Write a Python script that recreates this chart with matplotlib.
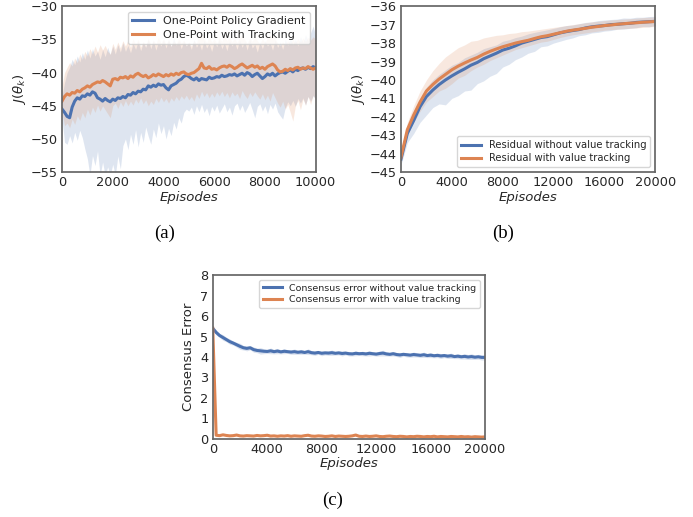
import matplotlib
matplotlib.use("Agg")
import matplotlib.pyplot as plt
import numpy as np

BLUE = "#4c72b0"
ORANGE = "#dd8452"

# ---- panel (a): one-point methods, every 100 episodes ----
ep_a = list(range(0, 10001, 100))
a_pg_mean = [-45.5, -46.0, -46.6, -46.8, -45.2, -44.3, -43.8, -44.0, -43.5, -43.6,
             -43.2, -43.4, -42.9, -43.1, -43.8, -44.0, -44.3, -43.9, -44.2, -44.4,
             -44.0, -44.2, -43.8, -43.9, -43.6, -43.8, -43.3, -43.4, -43.0, -43.2,
             -42.8, -42.9, -42.5, -42.6, -42.0, -42.2, -41.9, -42.1, -41.7, -41.9,
             -41.8, -42.3, -42.6, -42.0, -41.8, -41.6, -41.2, -41.0, -40.6, -40.4,
             -40.6, -40.9, -41.1, -40.8, -41.2, -40.9, -41.0, -41.1, -40.7, -40.9,
             -40.8, -40.6, -40.7, -40.4, -40.6, -40.5, -40.3, -40.4, -40.2, -40.5,
             -40.3, -40.1, -40.4, -40.0, -40.2, -40.6, -40.3, -40.1, -40.5, -40.9,
             -40.6, -40.2, -40.4, -40.1, -40.5, -40.2, -40.0, -39.9, -40.1, -39.8,
             -39.6, -39.9, -39.5, -39.7, -39.4, -39.3, -39.5, -39.2, -39.4, -39.1, -39.3]
a_pg_low = [-47.0, -50.5, -50.8, -49.5, -50.6, -49.0, -50.2, -48.7, -49.8, -51.5,
            -53.0, -55.5, -52.5, -54.0, -51.8, -55.5, -53.5, -55.5, -54.2, -55.5,
            -53.8, -55.5, -52.6, -54.5, -51.0, -50.0, -51.6, -49.3, -50.8, -48.6,
            -51.2, -49.0, -50.5, -48.2, -49.6, -50.8, -48.5, -49.8, -47.6, -49.2,
            -48.0, -50.0, -48.4, -49.5, -47.5, -48.5, -46.8, -47.6, -46.0, -45.5,
            -45.8, -45.2, -46.3, -45.0, -45.9, -44.8, -46.0, -45.3, -46.5, -45.1,
            -45.8, -44.9, -46.1, -45.4, -44.7, -45.9, -45.2, -46.4, -45.0, -44.6,
            -45.7, -44.9, -46.0, -45.3, -44.5, -45.6, -46.8, -45.1, -44.7, -45.8,
            -45.0, -46.2, -44.8, -45.5, -44.6, -45.9, -46.5, -47.0, -45.3, -44.4,
            -45.0, -44.2, -45.1, -43.9, -44.6, -43.8, -44.9, -43.6, -44.3, -43.5, -44.0]
a_pg_high = [-43.5, -41.5, -40.0, -39.2, -38.0, -38.8, -37.5, -38.4, -37.0, -38.0,
             -36.6, -37.8, -36.4, -37.5, -36.8, -38.0, -36.5, -37.6, -36.2, -37.3,
             -36.0, -37.2, -35.8, -36.9, -35.5, -36.8, -35.9, -37.0, -35.6, -36.5,
             -35.3, -36.7, -35.5, -36.2, -35.0, -36.4, -35.2, -36.6, -35.4, -36.0,
             -35.1, -36.3, -35.0, -36.1, -34.8, -35.9, -35.2, -36.4, -35.3, -36.0,
             -35.5, -36.5, -35.0, -36.2, -35.4, -36.6, -35.1, -36.3, -35.6, -36.8,
             -35.3, -36.1, -35.0, -36.4, -35.5, -36.7, -35.2, -36.0, -35.4, -36.5,
             -35.1, -36.2, -35.3, -36.6, -35.0, -36.3, -35.7, -36.9, -35.4, -36.4,
             -35.2, -36.0, -35.5, -36.6, -35.1, -36.2, -35.4, -36.5, -35.0, -35.9,
             -34.8, -35.8, -35.0, -36.0, -34.6, -35.5, -34.3, -35.2, -34.0, -33.0, -34.5]
a_tr_mean = [-44.3, -43.6, -43.2, -43.4, -43.0, -43.1, -42.7, -42.9, -42.5, -42.3,
             -42.0, -42.2, -41.8, -41.6, -41.4, -41.5, -41.2, -41.4, -41.7, -42.0,
             -41.0, -40.9, -41.1, -40.7, -40.8, -40.6, -40.9, -40.5, -40.7, -40.3,
             -40.1, -40.4, -40.6, -40.4, -40.8, -40.6, -40.3, -40.5, -40.2, -40.4,
             -40.6, -40.3, -40.5, -40.2, -40.4, -40.1, -40.3, -40.0, -39.9, -40.2,
             -40.3, -40.1, -40.0, -39.7, -39.4, -38.6, -39.3, -39.4, -39.1, -39.5,
             -39.4, -39.6, -39.3, -39.1, -39.0, -39.2, -38.9, -39.1, -39.4, -39.2,
             -38.9, -38.7, -39.0, -39.3, -39.1, -38.9, -39.2, -39.0, -39.4, -39.2,
             -39.5, -39.1, -38.9, -38.7, -39.0, -39.6, -39.9, -39.8, -39.5, -39.7,
             -39.4, -39.6, -39.3, -39.2, -39.5, -39.3, -39.4, -39.1, -39.3, -39.5, -39.3]
a_tr_low = [-46.0, -48.0, -47.6, -48.3, -47.0, -47.8, -46.5, -47.2, -46.0, -46.8,
            -45.5, -46.4, -45.2, -46.0, -44.9, -45.8, -45.0, -45.6, -46.2, -46.8,
            -45.0, -44.6, -45.4, -44.4, -45.1, -44.2, -45.0, -44.3, -44.9, -44.0,
            -44.6, -43.8, -44.7, -44.1, -45.0, -44.3, -44.8, -43.9, -44.5, -43.7,
            -44.4, -43.9, -44.6, -43.8, -44.3, -43.6, -44.2, -43.5, -44.0, -43.4,
            -44.1, -43.6, -44.3, -43.2, -43.9, -42.8, -43.6, -43.0, -43.8, -43.1,
            -43.7, -42.9, -43.5, -42.8, -43.6, -43.0, -43.8, -42.9, -43.5, -43.1,
            -43.9, -42.7, -43.4, -43.9, -43.0, -43.6, -42.9, -43.5, -44.0, -43.2,
            -44.1, -43.4, -44.3, -43.0, -43.8, -44.6, -45.2, -44.3, -45.5, -44.8,
            -46.0, -47.3, -45.0, -44.2, -45.6, -44.0, -44.9, -43.6, -44.8, -43.4, -44.0]
a_tr_high = [-42.0, -40.0, -39.2, -38.5, -39.0, -37.8, -38.5, -37.2, -38.0, -36.8,
             -37.5, -36.4, -37.2, -36.0, -36.9, -35.8, -36.6, -35.9, -36.8, -37.2,
             -35.6, -36.5, -35.4, -36.3, -35.2, -36.0, -35.1, -36.2, -34.9, -35.8,
             -35.0, -36.1, -35.3, -36.0, -34.8, -35.9, -35.1, -35.7, -34.7, -35.6,
             -34.9, -35.8, -35.0, -36.0, -35.2, -35.7, -34.9, -35.6, -35.1, -35.9,
             -35.4, -36.0, -35.2, -35.6, -34.4, -33.8, -34.8, -35.5, -34.6, -35.4,
             -34.9, -35.6, -34.7, -35.3, -34.5, -35.2, -34.6, -35.4, -34.8, -35.5,
             -34.7, -34.3, -35.0, -35.6, -34.8, -35.3, -34.6, -35.2, -35.7, -34.9,
             -35.5, -34.8, -34.4, -34.2, -34.9, -35.6, -35.9, -35.4, -35.8, -35.2,
             -35.6, -35.0, -35.5, -34.9, -35.4, -34.8, -35.3, -34.7, -35.1, -34.6, -35.0]

# ---- panel (b): residual methods, every 500 episodes ----
ep_b = list(range(0, 20001, 500))
b_no_mean = [-44.3, -42.9, -42.2, -41.45, -40.9, -40.55, -40.25, -40.0, -39.78, -39.58,
             -39.4, -39.2, -39.05, -38.85, -38.7, -38.55, -38.38, -38.28, -38.15, -38.0,
             -37.9, -37.8, -37.7, -37.65, -37.55, -37.45, -37.38, -37.32, -37.27, -37.18,
             -37.12, -37.08, -37.05, -37.0, -36.98, -36.95, -36.93, -36.88, -36.86, -36.84, -36.82]
b_no_low = [-44.6, -43.4, -42.9, -42.3, -41.9, -41.5, -41.3, -41.35, -41.0, -40.85,
            -40.6, -40.55, -40.2, -40.05, -39.8, -39.65, -39.3, -39.15, -38.9, -38.75,
            -38.55, -38.45, -38.2, -38.15, -38.0, -37.9, -37.8, -37.72, -37.6, -37.55,
            -37.45, -37.42, -37.35, -37.32, -37.25, -37.24, -37.2, -37.17, -37.1, -37.12, -37.05]
b_no_high = [-44.0, -42.5, -41.7, -41.0, -40.4, -40.0, -39.7, -39.45, -39.2, -39.05,
             -38.8, -38.65, -38.5, -38.3, -38.2, -38.1, -37.9, -37.82, -37.7, -37.62,
             -37.5, -37.42, -37.35, -37.28, -37.2, -37.12, -37.05, -37.02, -36.95, -36.88,
             -36.85, -36.78, -36.75, -36.72, -36.7, -36.64, -36.65, -36.6, -36.6, -36.56, -36.55]
b_tr_mean = [-44.2, -42.7, -41.9, -41.2, -40.6, -40.25, -39.95, -39.7, -39.45, -39.25,
             -39.08, -38.92, -38.78, -38.6, -38.45, -38.32, -38.2, -38.1, -38.0, -37.92,
             -37.85, -37.75, -37.66, -37.6, -37.52, -37.44, -37.36, -37.3, -37.25, -37.2,
             -37.14, -37.1, -37.05, -37.02, -36.98, -36.95, -36.92, -36.9, -36.87, -36.85, -36.83]
b_tr_low = [-44.4, -43.0, -42.3, -41.7, -41.2, -40.9, -40.6, -40.45, -40.2, -39.9,
            -39.75, -39.5, -39.3, -39.15, -38.95, -38.8, -38.65, -38.5, -38.35, -38.25,
            -38.15, -38.05, -37.95, -37.9, -37.8, -37.7, -37.62, -37.55, -37.5, -37.45,
            -37.4, -37.35, -37.3, -37.27, -37.25, -37.22, -37.2, -37.18, -37.15, -37.12, -37.1]
b_tr_high = [-43.9, -42.3, -41.4, -40.6, -40.0, -39.5, -39.1, -38.75, -38.5, -38.25,
             -38.1, -37.9, -37.85, -37.72, -37.65, -37.58, -37.55, -37.48, -37.45, -37.38,
             -37.35, -37.3, -37.25, -37.2, -37.15, -37.1, -37.05, -37.0, -36.95, -36.9,
             -36.85, -36.82, -36.78, -36.75, -36.72, -36.7, -36.68, -36.65, -36.62, -36.6, -36.58]

# ---- panel (c): consensus error, every 250 episodes ----
ep_c = list(range(0, 20001, 250))
c_no_mean = [5.40, 5.20, 5.05, 4.95, 4.85, 4.75, 4.68, 4.60, 4.52, 4.45,
             4.42, 4.45, 4.36, 4.32, 4.30, 4.28, 4.27, 4.30, 4.26, 4.29,
             4.25, 4.28, 4.26, 4.24, 4.26, 4.23, 4.25, 4.22, 4.26, 4.21,
             4.19, 4.22, 4.18, 4.20, 4.19, 4.21, 4.18, 4.20, 4.17, 4.19,
             4.16, 4.15, 4.18, 4.16, 4.17, 4.15, 4.18, 4.16, 4.14, 4.17,
             4.19, 4.15, 4.13, 4.16, 4.12, 4.10, 4.13, 4.11, 4.09, 4.12,
             4.10, 4.08, 4.11, 4.07, 4.09, 4.06, 4.08, 4.05, 4.07, 4.04,
             4.06, 4.02, 4.04, 4.01, 4.03, 4.00, 4.02, 3.99, 4.01, 3.98, 3.98]
c_no_spread = [0.10, 0.12, 0.10, 0.14, 0.11, 0.13, 0.10, 0.12, 0.15, 0.11,
               0.12, 0.10, 0.13, 0.11, 0.16, 0.12, 0.10, 0.14, 0.11, 0.13,
               0.10, 0.12, 0.09, 0.11, 0.13, 0.10, 0.12, 0.09, 0.14, 0.10,
               0.11, 0.09, 0.12, 0.10, 0.11, 0.13, 0.09, 0.10, 0.12, 0.09,
               0.11, 0.10, 0.12, 0.09, 0.11, 0.10, 0.13, 0.09, 0.10, 0.12,
               0.14, 0.10, 0.09, 0.11, 0.10, 0.12, 0.09, 0.11, 0.10, 0.12,
               0.10, 0.11, 0.13, 0.10, 0.12, 0.10, 0.11, 0.12, 0.10, 0.11,
               0.13, 0.10, 0.12, 0.11, 0.13, 0.12, 0.14, 0.11, 0.12, 0.13, 0.12]
c_tr_mean = [5.40, 0.18, 0.16, 0.20, 0.17, 0.15, 0.16, 0.19, 0.15, 0.14,
             0.16, 0.15, 0.14, 0.17, 0.15, 0.16, 0.18, 0.14, 0.15, 0.13,
             0.15, 0.14, 0.16, 0.13, 0.15, 0.14, 0.13, 0.16, 0.18, 0.14,
             0.13, 0.15, 0.14, 0.12, 0.13, 0.15, 0.12, 0.14, 0.13, 0.12,
             0.13, 0.15, 0.19, 0.13, 0.12, 0.14, 0.12, 0.13, 0.15, 0.12,
             0.11, 0.13, 0.14, 0.12, 0.11, 0.13, 0.12, 0.10, 0.12, 0.11,
             0.13, 0.12, 0.10, 0.12, 0.11, 0.13, 0.10, 0.12, 0.11, 0.10,
             0.12, 0.11, 0.10, 0.12, 0.10, 0.11, 0.09, 0.11, 0.10, 0.09, 0.10]

plt.rcParams["font.family"] = "DejaVu Sans"
plt.rcParams["axes.edgecolor"] = "0.4"
plt.rcParams["axes.linewidth"] = 1.25
plt.rcParams["xtick.color"] = "0.15"
plt.rcParams["ytick.color"] = "0.15"
plt.rcParams["text.color"] = "0.15"
plt.rcParams["axes.labelcolor"] = "0.15"
plt.rcParams["mathtext.fontset"] = "dejavusans"

fig = plt.figure(figsize=(6.93, 5.17), dpi=100)
ax_a = fig.add_axes([0.0895, 0.667, 0.366, 0.321])
ax_b = fig.add_axes([0.5786, 0.667, 0.367, 0.321])
ax_c = fig.add_axes([0.307, 0.151, 0.393, 0.317])


def style(ax):
    ax.tick_params(length=0, pad=3, labelsize=9.3)
    ax.set_xlabel("Episodes", fontstyle="italic", fontsize=9.5, labelpad=1)


# (a)
ax_a.fill_between(ep_a, a_pg_low, a_pg_high, color=BLUE, alpha=0.18, lw=0)
ax_a.fill_between(ep_a, a_tr_low, a_tr_high, color=ORANGE, alpha=0.18, lw=0)
ax_a.plot(ep_a, a_pg_mean, color=BLUE, lw=2.2, label="One-Point Policy Gradient")
ax_a.plot(ep_a, a_tr_mean, color=ORANGE, lw=2.2, label="One-Point with Tracking")
ax_a.set_xlim(0, 10000)
ax_a.set_ylim(-55, -30)
ax_a.set_xticks([0, 2000, 4000, 6000, 8000, 10000])
ax_a.set_yticks([-55, -50, -45, -40, -35, -30])
ax_a.set_ylabel(r"$J(\theta_k)$", fontsize=9.5, labelpad=2)
style(ax_a)
ax_a.legend(loc="upper right", fontsize=8, frameon=True, edgecolor="0.8",
            handlelength=2.0, borderpad=0.4, labelspacing=0.3)

# (b)
ax_b.fill_between(ep_b, b_no_low, b_no_high, color=BLUE, alpha=0.18, lw=0)
ax_b.fill_between(ep_b, b_tr_low, b_tr_high, color=ORANGE, alpha=0.18, lw=0)
ax_b.plot(ep_b, b_no_mean, color=BLUE, lw=2.2, label="Residual without value tracking")
ax_b.plot(ep_b, b_tr_mean, color=ORANGE, lw=2.2, label="Residual with value tracking")
ax_b.set_xlim(0, 20000)
ax_b.set_ylim(-45, -36)
ax_b.set_xticks([0, 4000, 8000, 12000, 16000, 20000])
ax_b.set_yticks(list(range(-45, -35)))
ax_b.set_ylabel(r"$J(\theta_k)$", fontsize=9.5, labelpad=2)
style(ax_b)
ax_b.legend(loc="lower right", fontsize=7.2, frameon=True, edgecolor="0.8",
            handlelength=2.0, borderpad=0.4, labelspacing=0.3)

# (c)
c_no_low = [m - s for m, s in zip(c_no_mean, c_no_spread)]
c_no_high = [m + s for m, s in zip(c_no_mean, c_no_spread)]
ax_c.fill_between(ep_c, c_no_low, c_no_high, color=BLUE, alpha=0.2, lw=0)
ax_c.plot(ep_c, c_no_mean, color=BLUE, lw=2.2, label="Consensus error without value tracking")
ax_c.plot(ep_c, c_tr_mean, color=ORANGE, lw=2.2, label="Consensus error with value tracking")
ax_c.set_xlim(0, 20000)
ax_c.set_ylim(0, 8)
ax_c.set_xticks([0, 4000, 8000, 12000, 16000, 20000])
ax_c.set_yticks(list(range(0, 9)))
ax_c.set_ylabel("Consensus Error", fontsize=9.5, labelpad=4)
style(ax_c)
ax_c.legend(loc="upper right", fontsize=6.8, frameon=True, edgecolor="0.8",
            handlelength=2.0, borderpad=0.4, labelspacing=0.3)

# captions
for x, y, t in [(0.238, 0.549, "(a)"), (0.726, 0.549, "(b)"), (0.480, 0.033, "(c)")]:
    fig.text(x, y, t, ha="center", va="center", fontsize=13.5,
             family="Liberation Serif", color="black")

fig.savefig("out.png", dpi=100)
